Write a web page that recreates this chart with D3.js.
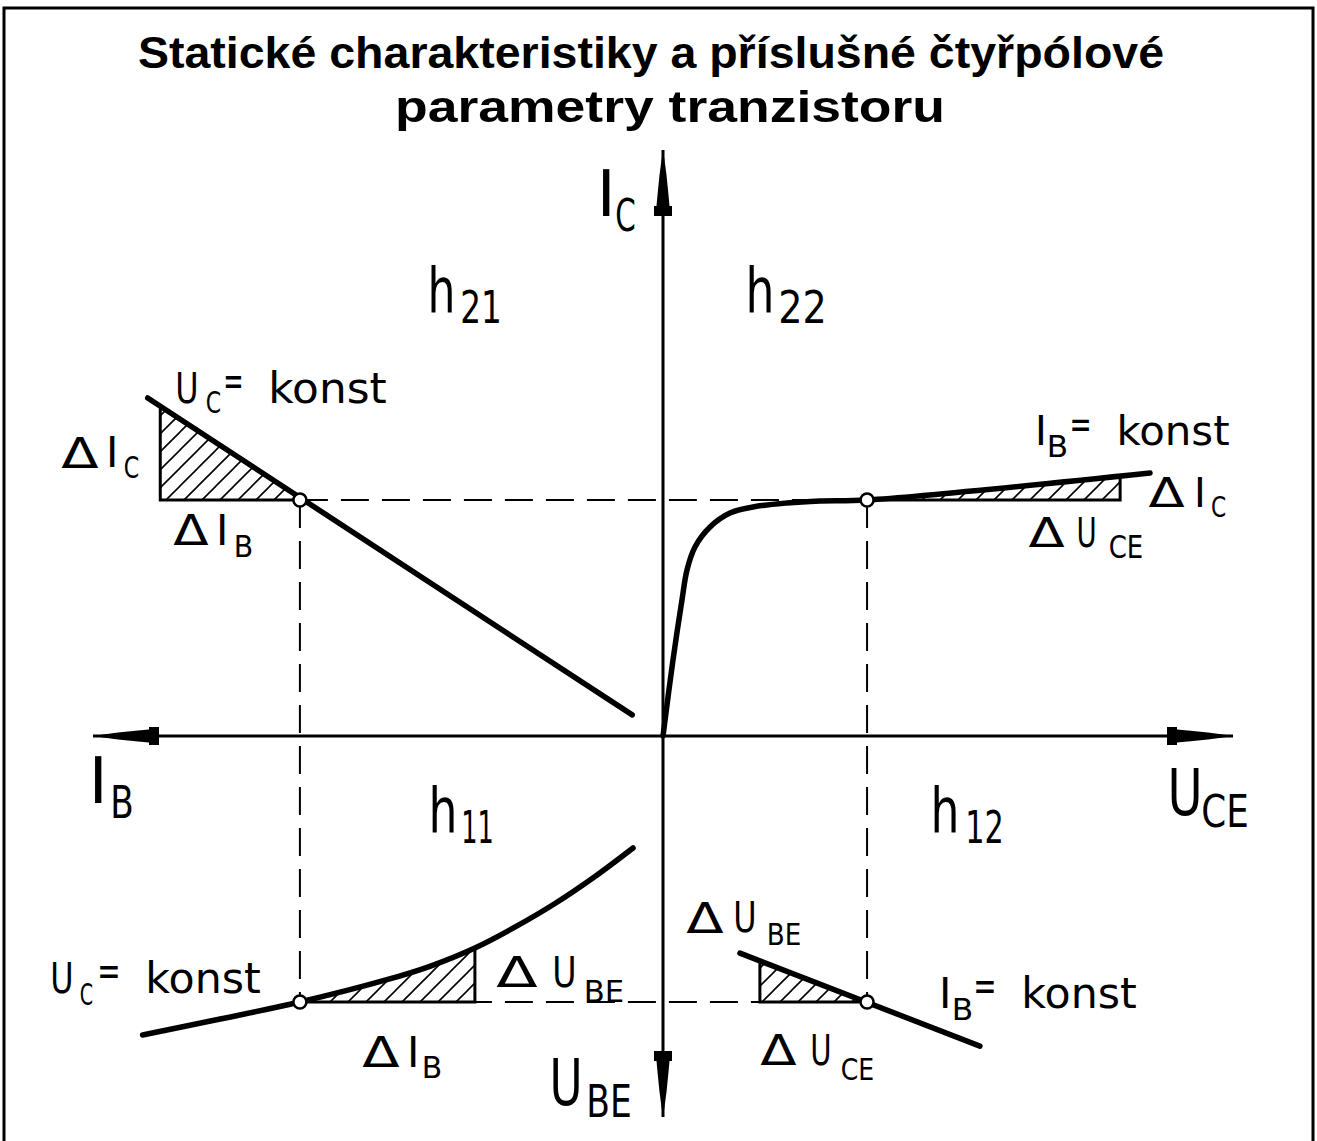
<!DOCTYPE html>
<html>
<head>
<meta charset="utf-8">
<script src="https://cdn.jsdelivr.net/npm/d3@7"></script>
<style>
body { margin: 0; background: #fff; }
svg { display: block; }
</style>
</head>
<body>
<svg id="chart" width="1317" height="1141"></svg>
<script>
// axis extents in signed units (left = I_B, right = U_CE, up = I_C, down = U_BE)
var axisH = [-10, 10];
var axisV = [-6.684, 10.281];

// quadrant II - h21, I_C = f(I_B), U_C = konst
var h21Line = [[-9.04, 5.93], [-0.54, 0.37]];
// quadrant I - h22, I_C = f(U_CE), I_B = konst
var h22Curve = [[0, 0], [0.175, 1.333], [0.333, 2.386], [0.421, 2.912], [0.561, 3.316],
                [0.825, 3.667], [1.175, 3.912], [1.579, 4.018], [2.175, 4.088],
                [2.754, 4.123], [3.58, 4.14], [8.544, 4.614]];
// quadrant III - h11, U_BE = f(I_B), U_C = konst
var h11Curve = [[-9.13, -5.246], [-7.77, -4.965], [-6.37, -4.667], [-4.86, -4.28],
                [-4.09, -4.04], [-3.30, -3.719], [-2.60, -3.354], [-1.895, -2.939],
                [-1.193, -2.465], [-0.526, -1.965]];
// quadrant IV - h12, U_BE = f(U_CE), I_B = konst
var h12Line = [[1.35, -3.81], [5.56, -5.44]];

// operating points (II, I, III, IV)
var opPoints = [[-6.37, 4.14], [3.58, 4.14], [-6.37, -4.667], [3.58, -4.667]];

// delta triangles: solid legs and hatched area
var legs = [
  [[-8.82, 5.79], [-8.82, 4.14], [-6.37, 4.14]],
  [[3.58, 4.14], [8.02, 4.14], [8.02, 4.56]],
  [[-6.37, -4.667], [-3.30, -4.667], [-3.30, -3.719]],
  [[1.70, -3.98], [1.70, -4.667], [3.58, -4.667]]
];
var hatches = [
  [[-8.82, 5.79], [-8.82, 4.14], [-6.37, 4.14]],
  [[3.58, 4.14], [8.02, 4.14], [8.02, 4.56]],
  [[-6.37, -4.667], [-3.30, -4.667], [-3.30, -3.719], [-4.09, -4.04], [-4.86, -4.28]],
  [[1.70, -3.98], [1.70, -4.667], [3.58, -4.667]]
];

// labels: list of pieces [text, left, right, baseline, size]
var labels = [
  [["I", 603, 607, 216, 64], ["C", 617, 634, 231, 44]],
  [["I", 95, 100, 803, 64], ["B", 112, 132, 818, 44]],
  [["U", 1170, 1200, 815, 64], ["CE", 1203, 1247, 827, 44]],
  [["U", 552, 580, 1105, 64], ["BE", 588, 630, 1117, 44]],
  [["h", 430, 453, 312, 62], ["21", 462, 500, 323, 45]],
  [["h", 748, 772, 312, 62], ["22", 780, 825, 323, 45]],
  [["h", 431, 455, 832, 62], ["11", 463, 492, 843, 45]],
  [["h", 933, 957, 832, 62], ["12", 967, 1002, 843, 45]],
  [["U", 177, 197, 403, 42], ["C", 207, 220, 413, 30], ["=", 225, 242, 395, 42], ["konst", 270, 385, 403, 42]],
  [["Δ", 63, 97, 468, 42], ["I", 110, 114, 467, 42], ["C", 125, 138, 478, 31]],
  [["Δ", 175, 207, 545, 42], ["I", 220, 224, 545, 42], ["B", 235, 252, 557, 31]],
  [["I", 1039, 1043, 445, 40], ["B", 1048, 1067, 457, 30], ["=", 1071, 1090, 438, 40], ["konst", 1118, 1228, 445, 40]],
  [["Δ", 1150, 1183, 507, 40], ["I", 1198, 1202, 507, 40], ["C", 1212, 1225, 517, 28]],
  [["Δ", 1030, 1063, 547, 40], ["U", 1078, 1095, 547, 40], ["CE", 1110, 1142, 558, 32]],
  [["U", 52, 72, 993, 42], ["C", 81, 92, 1005, 30], ["=", 99, 119, 985, 42], ["konst", 147, 259, 993, 42]],
  [["Δ", 498, 536, 987, 42], ["U", 554, 575, 987, 42], ["BE", 585, 623, 1002, 31]],
  [["Δ", 364, 398, 1067, 42], ["I", 411, 415, 1067, 42], ["B", 423, 441, 1078, 31]],
  [["Δ", 688, 722, 933, 42], ["U", 735, 755, 932, 42], ["BE", 768, 800, 945, 31]],
  [["I", 943, 947, 1008, 42], ["B", 953, 972, 1020, 31], ["=", 975, 995, 1000, 42], ["konst", 1023, 1135, 1008, 42]],
  [["Δ", 762, 795, 1065, 42], ["U", 812, 830, 1065, 42], ["CE", 842, 873, 1080, 31]]
];

var titleLines = ["Statické charakteristiky a příslušné čtyřpólové", "parametry tranzistoru"];

var svg = d3.select("#chart");

// scales: 57 px per unit, origin at (663, 736)
var x = d3.scaleLinear().domain(axisH).range([93, 1233]);
var y = d3.scaleLinear().domain(axisV).range([1117, 150]);

var line = d3.line().x(function(d) { return x(d[0]); }).y(function(d) { return y(d[1]); });
var smooth = d3.line().x(function(d) { return x(d[0]); }).y(function(d) { return y(d[1]); })
  .curve(d3.curveCatmullRom.alpha(0.5));

// frame
svg.append("rect")
  .attr("x", 4).attr("y", 8).attr("width", 1309).attr("height", 1150)
  .attr("fill", "none").attr("stroke", "#000").attr("stroke-width", 3);

// hatch pattern
var pat = svg.append("defs").append("pattern")
  .attr("id", "hatch").attr("patternUnits", "userSpaceOnUse")
  .attr("width", 18).attr("height", 18);
pat.append("path")
  .attr("d", "M0,18 L18,0 M-4.5,4.5 L4.5,-4.5 M13.5,22.5 L22.5,13.5")
  .attr("stroke", "#000").attr("stroke-width", 1.6);

svg.selectAll(".hatch").data(hatches).enter().append("path")
  .attr("class", "hatch")
  .attr("d", function(d) { return line(d) + "Z"; })
  .attr("fill", "url(#hatch)");

svg.selectAll(".leg").data(legs).enter().append("path")
  .attr("class", "leg")
  .attr("d", line)
  .attr("fill", "none").attr("stroke", "#000").attr("stroke-width", 3);

// dashed projection lines
var dashed = [[opPoints[0], opPoints[1]], [opPoints[0], opPoints[2]],
              [opPoints[1], opPoints[3]], [opPoints[2], opPoints[3]]];
svg.selectAll(".dash").data(dashed).enter().append("path")
  .attr("class", "dash")
  .attr("d", line)
  .attr("fill", "none").attr("stroke", "#000").attr("stroke-width", 2)
  .attr("stroke-dasharray", "28,13");

// axes
svg.append("path").attr("d", line([[axisH[0], 0], [axisH[1], 0]]))
  .attr("stroke", "#000").attr("stroke-width", 3);
svg.append("path").attr("d", line([[0, axisV[0]], [0, axisV[1]]]))
  .attr("stroke", "#000").attr("stroke-width", 3);

// arrow heads (shape pointing to +x, tip at 0)
var arrowShape = [[0, 0], [-10, 1.5], [-25, 3.5], [-45, 5.5], [-56, 6.5], [-56, 9], [-66, 9],
                  [-66, -9], [-56, -9], [-56, -6.5], [-45, -5.5], [-25, -3.5], [-10, -1.5]];
var tips = [[axisH[1], 0, 0], [axisH[0], 0, 180], [0, axisV[1], -90], [0, axisV[0], 90]];
svg.selectAll(".arrow").data(tips).enter().append("path")
  .attr("class", "arrow")
  .attr("d", "M" + arrowShape.join("L") + "Z")
  .attr("transform", function(d) { return "translate(" + x(d[0]) + "," + y(d[1]) + ") rotate(" + d[2] + ")"; })
  .attr("fill", "#000");

// characteristics
[h21Line, h12Line].forEach(function(d) {
  svg.append("path").attr("d", line(d))
    .attr("fill", "none").attr("stroke", "#000").attr("stroke-width", 5.5)
    .attr("stroke-linecap", "round");
});
[h22Curve, h11Curve].forEach(function(d) {
  svg.append("path").attr("d", smooth(d))
    .attr("fill", "none").attr("stroke", "#000").attr("stroke-width", 5.5)
    .attr("stroke-linecap", "round").attr("stroke-linejoin", "round");
});

// operating points
svg.selectAll(".op").data(opPoints).enter().append("circle")
  .attr("class", "op")
  .attr("cx", function(d) { return x(d[0]); })
  .attr("cy", function(d) { return y(d[1]); })
  .attr("r", 6.5)
  .attr("fill", "#fff").attr("stroke", "#000").attr("stroke-width", 2.5);

// labels, one text element each, pieces as tspans
var lbl = svg.selectAll(".lbl").data(labels).enter().append("text")
  .attr("class", "lbl")
  .attr("font-family", "'DejaVu Sans', sans-serif")
  .attr("fill", "#000");
lbl.selectAll("tspan").data(function(d) { return d; }).enter().append("tspan")
  .attr("x", function(d) { return d[0] == "I" ? d[1] - 0.098 * d[4] : d[1] - 0.04 * d[4]; })
  .attr("y", function(d) { return d[3]; })
  .attr("font-size", function(d) { return d[4]; })
  .attr("textLength", function(d) { return d[0] == "I" ? null : (d[2] - d[1]) + 0.08 * d[4]; })
  .attr("lengthAdjust", "spacingAndGlyphs")
  .text(function(d) { return d[0]; });

// title
svg.append("text")
  .attr("x", 138).attr("y", 68)
  .attr("font-family", "'Liberation Sans', Arial, sans-serif")
  .attr("font-weight", "bold").attr("font-size", 45)
  .attr("textLength", 1026).attr("lengthAdjust", "spacingAndGlyphs")
  .text(titleLines[0]);
svg.append("text")
  .attr("x", 395).attr("y", 122)
  .attr("font-family", "'Liberation Sans', Arial, sans-serif")
  .attr("font-weight", "bold").attr("font-size", 45)
  .attr("textLength", 550).attr("lengthAdjust", "spacingAndGlyphs")
  .text(titleLines[1]);
</script>
</body>
</html>
